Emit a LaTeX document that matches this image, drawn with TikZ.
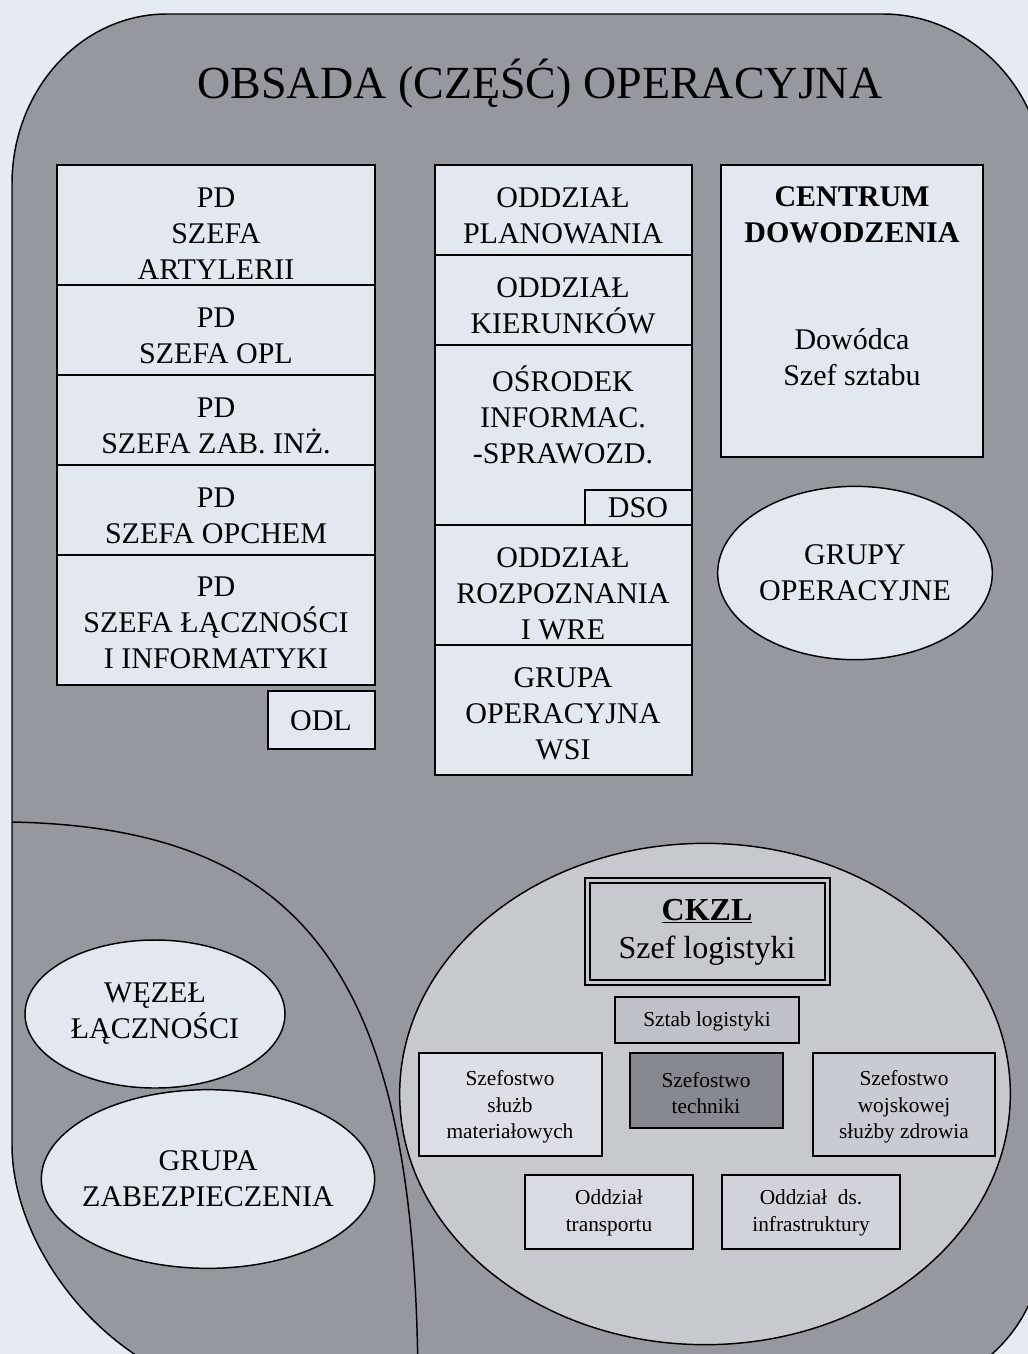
\documentclass[tikz,border=0pt]{standalone}
\usepackage{fontspec}
\setmainfont{Liberation Serif}
\usetikzlibrary{shapes.geometric}
\definecolor{bg}{HTML}{E6EBF3}
\definecolor{outergray}{HTML}{95989F}
\definecolor{boxfill}{HTML}{E2E7F0}
\definecolor{ckzlfill}{HTML}{C6C9CE}
\definecolor{sztabfill}{HTML}{BEC1C7}
\definecolor{matfill}{HTML}{DCDFE5}
\definecolor{techfill}{HTML}{868990}
\definecolor{zdrowfill}{HTML}{C8CBD1}
\definecolor{transfill}{HTML}{D8DBE1}
\definecolor{infrafill}{HTML}{D0D3D9}
\tikzset{
  frame/.style={draw=black, line width=1.1pt},
  cellbox/.style={frame, fill=boxfill},
  txt/.style={inner sep=0pt, align=center, font=\fontsize{22.5}{27}\selectfont},
  smalltxt/.style={inner sep=0pt, align=center, font=\fontsize{16}{20}\selectfont},
  oval/.style={ellipse, frame, fill=boxfill, inner sep=0pt},
  smallbox/.style={draw=black, line width=1pt},
}
\begin{document}
\begin{tikzpicture}[x=0.75pt,y=-0.75pt]
\useasboundingbox (0,0) rectangle (1028,1354);
\fill[bg] (0,0) rectangle (1028,1354);
\clip (0,0) rectangle (1028,1354);

% outer shape
\path[fill=outergray, draw=black, line width=1.1pt]
  (12,184) .. controls (12,90) and (81,14) .. (167,14)
  -- (883,14) .. controls (970,14) and (1042,90) .. (1042,170)
  -- (1042,1245) .. controls (1042,1328) and (970,1395) .. (883,1395)
  -- (262,1395) .. controls (124,1395) and (12,1257) .. (12,1145) -- cycle;

% divider of lower-left zone
\draw[line width=1.1pt] (12,822) .. controls (310,828) and (418,980) .. (418,1395);

% title
\node[inner sep=0pt, font=\fontsize{34.5}{40}\selectfont] (title) at (540,84) {OBSADA (CZĘŚĆ) OPERACYJNA};

% left column
\path[cellbox] (57,165) rectangle (375,685);
\draw[frame] (57,285) -- (375,285);
\draw[frame] (57,375) -- (375,375);
\draw[frame] (57,465) -- (375,465);
\draw[frame] (57,555) -- (375,555);
\node[txt] (l1) at (216,234) {PD\\SZEFA\\ARTYLERII};
\node[txt] (l2) at (216,336) {PD\\SZEFA OPL};
\node[txt] (l3) at (216,426) {PD\\SZEFA ZAB. INŻ.};
\node[txt] (l4) at (216,516) {PD\\SZEFA OPCHEM};
\node[txt] (l5) at (216,623) {PD\\SZEFA ŁĄCZNOŚCI\\I INFORMATYKI};
\path[cellbox] (268,691) rectangle (375,749);
\node[txt] (odl) at (321,721) {ODL};

% middle column
\path[cellbox] (435,165) rectangle (692,775);
\draw[frame] (435,255) -- (692,255);
\draw[frame] (435,345) -- (692,345);
\draw[frame] (435,525) -- (692,525);
\draw[frame] (435,645) -- (692,645);
\draw[frame] (585,525) -- (585,490) -- (692,490);
\node[txt] (m1) at (563,216) {ODDZIAŁ\\PLANOWANIA};
\node[txt] (m2) at (563,306) {ODDZIAŁ\\KIERUNKÓW};
\node[txt] (m3) at (563,415) {OŚRODEK\\INFORMAC.\\-SPRAWOZD.};
\node[txt] (dso) at (638,508) {DSO};
\node[txt] (m4) at (563,594) {ODDZIAŁ\\ROZPOZNANIA\\I WRE};
\node[txt] (m5) at (563,714) {GRUPA\\OPERACYJNA\\WSI};

% right column
\path[cellbox] (721,165) rectangle (983,457);
\node[txt, font=\fontsize{22.5}{27}\selectfont\bfseries] (cd) at (852,215) {CENTRUM\\DOWODZENIA};
\node[txt] (dow) at (852,357) {Dowódca\\Szef sztabu};
\node[oval, minimum width=206pt, minimum height=130pt] (grupy) at (855,573) {};
\node[txt] (grupyt) at (855,573) {GRUPY\\OPERACYJNE};

% lower-left ellipses
\node[oval, minimum width=195pt, minimum height=111pt] (wezel) at (155,1014) {};
\node[txt] (wezelt) at (155,1014) {WĘZEŁ\\ŁĄCZNOŚCI};
\node[oval, minimum width=250pt, minimum height=134pt] (zab) at (208,1179) {};
\node[txt] (zabt) at (208,1179) {GRUPA\\ZABEZPIECZENIA};

% CKZL area
\node[ellipse, frame, fill=ckzlfill, minimum width=458pt, minimum height=376pt] (ckzlell) at (705,1094) {};
\path[fill=ckzlfill, draw=black, line width=1.1pt] (585,878) rectangle (830,985);
\draw[line width=0.8pt] (590,883) rectangle (825,980);
\node[inner sep=0pt, align=center, font=\fontsize{24}{28.5}\selectfont] (ckzl) at (707,932) {\textbf{\underline{CKZL}}\\Szef logistyki};

\path[smallbox, fill=sztabfill] (615,997) rectangle (799,1043);
\node[smalltxt] (sztab) at (707,1021) {Sztab logistyki};

\path[smallbox, fill=matfill] (419,1053) rectangle (602,1156);
\node[smalltxt] (mat) at (510,1107) {Szefostwo\\służb\\materiałowych};

\path[smallbox, fill=techfill] (630,1053) rectangle (783,1128);
\node[smalltxt] (tech) at (706,1093) {Szefostwo\\techniki};

\path[smallbox, fill=zdrowfill] (813,1053) rectangle (995,1156);
\node[smalltxt] (zdrow) at (904,1107) {Szefostwo\\wojskowej\\służby zdrowia};

\path[smallbox, fill=transfill] (525,1175) rectangle (693,1249);
\node[smalltxt] (trans) at (609,1213) {Oddział\\transportu};

\path[smallbox, fill=infrafill] (722,1175) rectangle (900,1249);
\node[smalltxt] (infra) at (811,1213) {Oddział\enspace ds.\\infrastruktury};
\end{tikzpicture}
\end{document}
